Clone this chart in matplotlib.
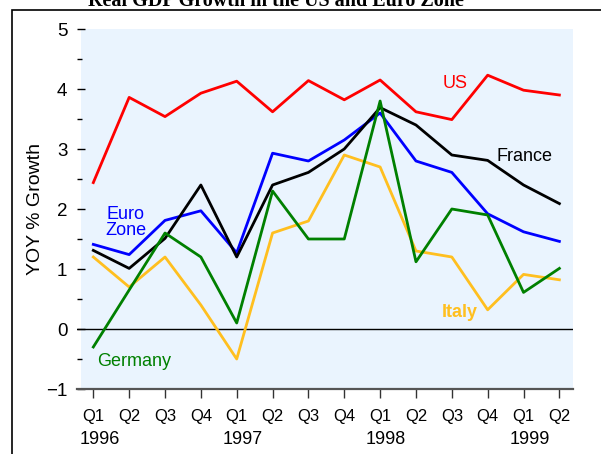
import matplotlib.pyplot as plt
from matplotlib.patches import Rectangle
from matplotlib.ticker import MultipleLocator
import matplotlib.transforms as mtransforms

plt.rcParams['font.family'] = ['Liberation Sans', 'DejaVu Sans']

# quarterly data, Q1 1996 .. Q2 1999
quarters = ['Q1', 'Q2', 'Q3', 'Q4', 'Q1', 'Q2', 'Q3', 'Q4', 'Q1', 'Q2', 'Q3', 'Q4', 'Q1', 'Q2']
years = ['1996', '1997', '1998', '1999']
year_pos = [0, 4, 8, 12]

us = [2.44, 3.86, 3.54, 3.93, 4.13, 3.62, 4.14, 3.82, 4.15, 3.62, 3.49, 4.23, 3.98, 3.90]
euro = [1.41, 1.24, 1.81, 1.97, 1.27, 2.93, 2.80, 3.15, 3.60, 2.80, 2.61, 1.92, 1.62, 1.46]
france = [1.31, 1.01, 1.51, 2.40, 1.20, 2.40, 2.61, 3.00, 3.69, 3.40, 2.90, 2.81, 2.40, 2.09]
germany = [-0.30, 0.65, 1.60, 1.20, 0.10, 2.30, 1.50, 1.50, 3.80, 1.12, 2.00, 1.90, 0.61, 1.01]
italy = [1.20, 0.70, 1.20, 0.40, -0.50, 1.60, 1.80, 2.90, 2.70, 1.30, 1.20, 0.32, 0.91, 0.82]

x = list(range(len(quarters)))

fig = plt.figure(figsize=(6.01, 4.54), dpi=100)
ax = fig.add_axes([77 / 601, 1 - 389 / 454, 496 / 601, 360 / 454])
ax.set_facecolor('none')

# light blue panel, slightly inset on the left
ax.add_patch(Rectangle((0.008, 0), 0.992, 1, transform=ax.transAxes,
                       facecolor='#EAF4FE', edgecolor='none', zorder=0))

ax.axhline(0, color='black', lw=1, zorder=1)

lw = 2.0
ax.plot(x, italy, color='#FFBF1F', lw=lw, zorder=2)
ax.plot(x, euro, color='#0000FF', lw=lw, zorder=3)
ax.plot(x, france, color='black', lw=lw, zorder=4)
ax.plot(x, germany, color='#008000', lw=lw, zorder=5)
ax.plot(x, us, color='#FF0000', lw=lw, zorder=6)

ax.text(10.09, 4.1, 'US', color='#FF0000', fontsize=13, ha='center', va='center')
ax.text(12.04, 2.87, 'France', color='black', fontsize=13, ha='center', va='center')
ax.text(0.91, 1.78, 'Euro\nZone', color='#0000FF', fontsize=13, ha='center', va='center',
        linespacing=0.95)
ax.text(10.22, 0.27, 'Italy', color='#FFBF1F', fontsize=13, fontweight='bold',
        ha='center', va='center')
ax.text(1.15, -0.55, 'Germany', color='#008000', fontsize=13, ha='center', va='center')

ax.set_xlim(-0.455, 13.38)
ax.set_ylim(-1, 5)

for s in ['left', 'top', 'right']:
    ax.spines[s].set_visible(False)
ax.spines['bottom'].set_color('#555555')
ax.spines['bottom'].set_linewidth(1.6)

ax.set_xticks(x)
ax.set_xticklabels(quarters, fontsize=12)
ax.tick_params(axis='x', direction='out', length=6.5, width=1, color='#333333', pad=8)

ax.yaxis.set_major_locator(MultipleLocator(1))
ax.yaxis.set_minor_locator(MultipleLocator(0.5))
ax.tick_params(axis='y', which='major', direction='in', length=6, width=1, pad=7,
               labelsize=13.5)
ax.tick_params(axis='y', which='minor', direction='in', length=3.6, width=1)

trans = mtransforms.blended_transform_factory(ax.transData, fig.transFigure)
for pos, yr in zip(year_pos, years):
    ax.text(pos + 0.17, 1 - 440 / 454, yr, transform=trans, fontsize=13,
            ha='center', va='center')

fig.text(35 / 601, 1 - 209 / 454, 'YOY % Growth', rotation=90, fontsize=14,
         ha='center', va='center')

fig.text(276 / 601, 1 - 6 / 454, 'Real GDP Growth in the US and Euro Zone',
         family='Liberation Serif', fontweight='bold', fontsize=14.5,
         ha='center', va='baseline')

# outer frame, running off the right and bottom edges
fig.add_artist(Rectangle((12 / 601, -0.1), 1.2, 1 - 10 / 454 + 0.1,
                         transform=fig.transFigure, facecolor='none',
                         edgecolor='black', lw=1.2))

fig.savefig('out.png', dpi=100)
